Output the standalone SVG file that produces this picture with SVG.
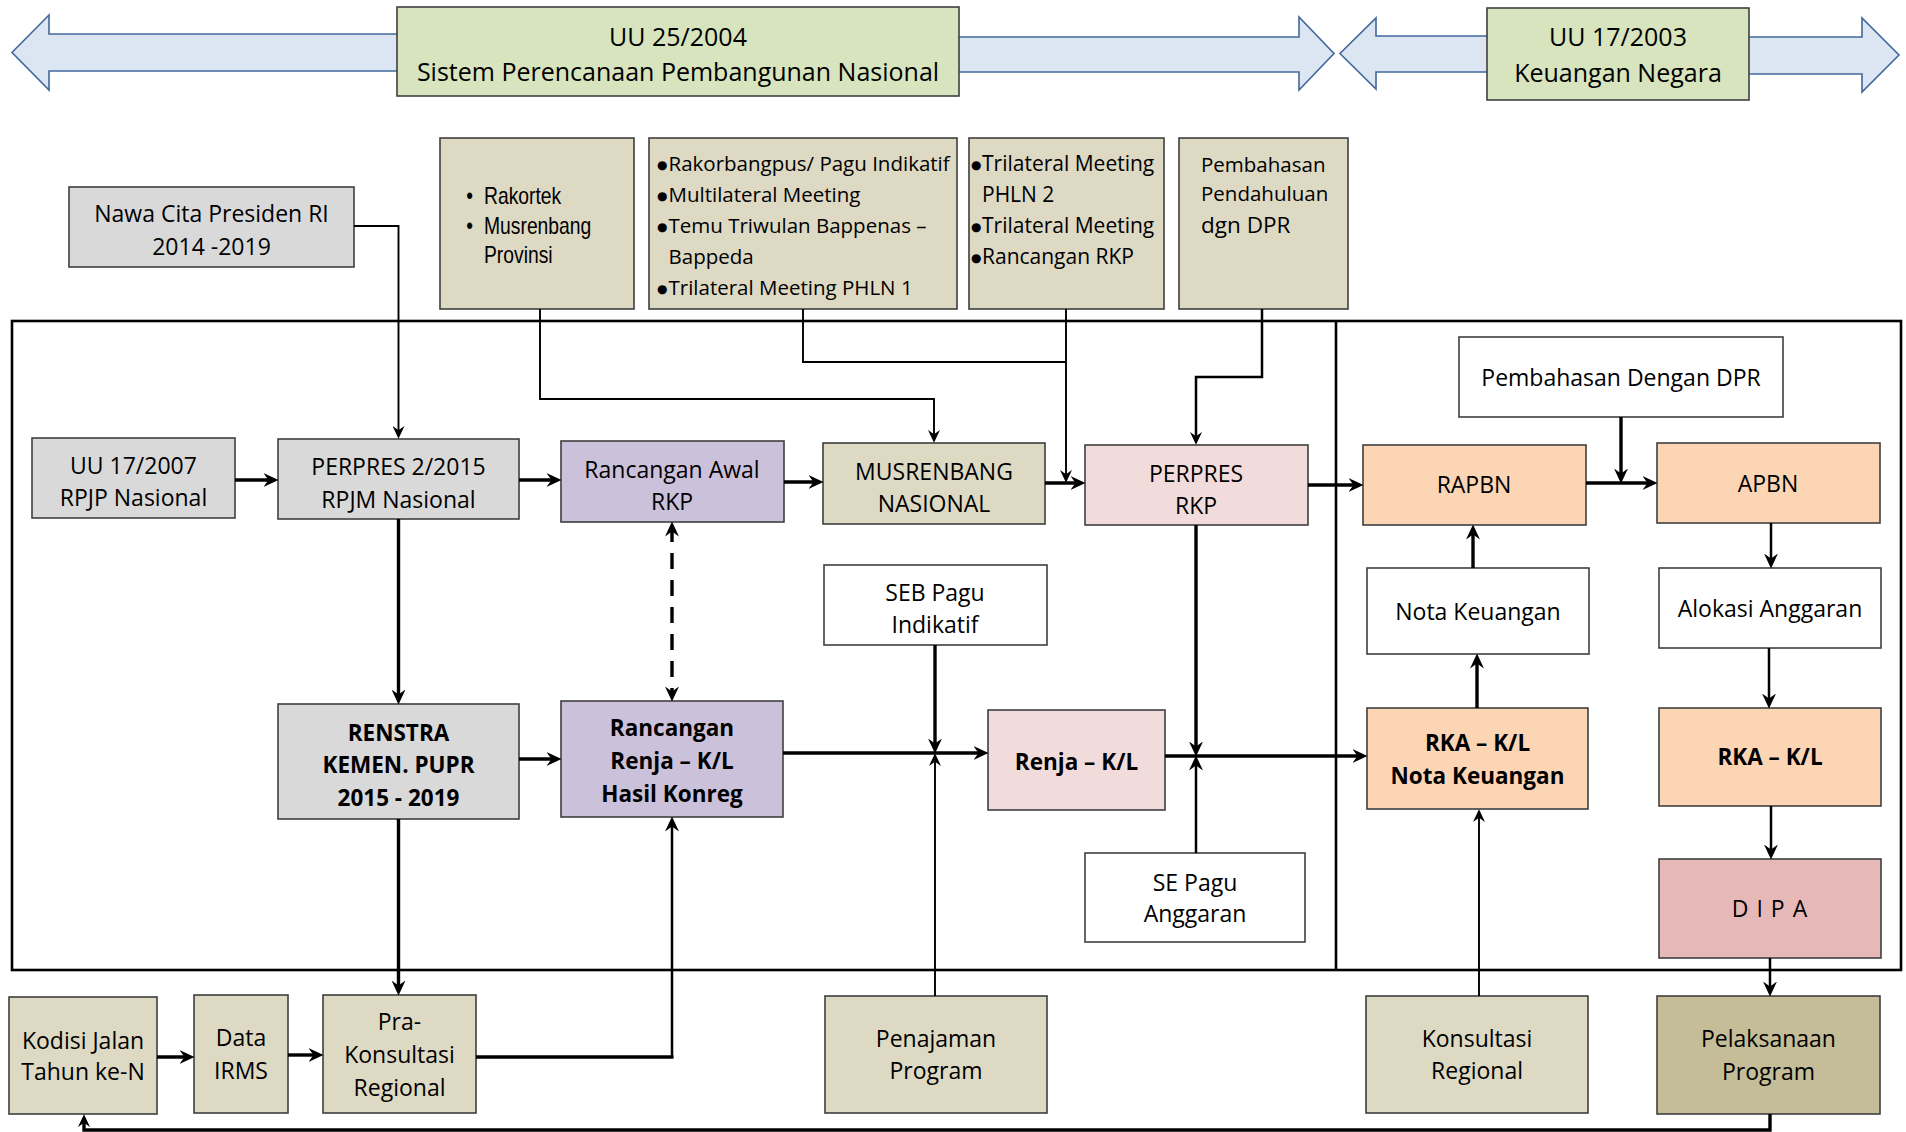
<svg xmlns="http://www.w3.org/2000/svg" width="1906" height="1132" viewBox="0 0 1906 1132">
  <style>
    .bx { stroke: #3f3f3f; stroke-width: 1.6; }
    .green { fill: #d7e4bd; }
    .gray { fill: #d9d9d9; }
    .tan { fill: #ddd9c3; }
    .purple { fill: #ccc1da; }
    .pink { fill: #f2dcdb; }
    .peach { fill: #fcd5b5; }
    .rose { fill: #e6b9b8; }
    .olive { fill: #c4bd97; }
    .white { fill: #ffffff; }
    .barrow { fill: #dce6f2; stroke: #41689c; stroke-width: 1.6; }
    .frame { fill: none; stroke: #000; stroke-width: 2.6; }
    .tx { font-family: "Open Sans", "Noto Sans", sans-serif; font-size: 23px; text-anchor: middle; fill: #000; }
    .bd { font-weight: 700; font-size: 22.5px; }
    .tp { font-size: 25px; }
    .lf { text-anchor: start; font-size: 20.5px; }
    .bul { font-family: "DejaVu Sans", sans-serif; font-size: 12px; text-anchor: start; fill: #000; }
    .nr { font-family: "Liberation Sans", Arial, sans-serif; font-size: 23px; text-anchor: start; fill: #000; }
    .c { fill: none; stroke: #000; }
    .thk { stroke-width: 3.4; }
    .med { stroke-width: 2.5; }
    .thn { stroke-width: 1.9; }
    .dash { stroke-dasharray: 16 11; }
  </style>
  <defs>
    <marker id="arr" viewBox="0 0 15 14" refX="10.5" refY="7" markerWidth="15" markerHeight="14" markerUnits="userSpaceOnUse" orient="auto-start-reverse">
      <path d="M0,0 L15,7 L0,14 L5,7 z" fill="#000"/>
    </marker>
    <marker id="arrs" viewBox="0 0 15 14" refX="10.5" refY="7" markerWidth="13" markerHeight="12" markerUnits="userSpaceOnUse" orient="auto-start-reverse">
      <path d="M0,0 L15,7 L0,14 L5,7 z" fill="#000"/>
    </marker>
  </defs>

  <rect width="1906" height="1132" fill="#ffffff"/>

  <!-- law banners with block arrows -->
  <g id="uu-25-2004">
    <polygon class="barrow" points="49,15 12,52.5 49,90 49,71 400,71 400,34 49,34"/>
    <polygon class="barrow" points="955,37 1299,37 1299,17 1334,53.5 1299,90 1299,72 955,72"/>
    <rect class="bx green" x="397" y="7" width="562" height="89"/>
    <text class="tx tp" x="678" y="46">UU 25/2004</text>
    <text class="tx tp" x="678" y="81">Sistem Perencanaan Pembangunan Nasional</text>
  </g>
  <g id="uu-17-2003">
    <polygon class="barrow" points="1490,36 1376,36 1376,18 1340,53.5 1376,89 1376,72 1490,72"/>
    <polygon class="barrow" points="1746,37 1862,37 1862,18 1899,55 1862,92 1862,74 1746,74"/>
    <rect class="bx green" x="1487" y="8" width="262" height="92"/>
    <text class="tx tp" x="1618" y="46">UU 17/2003</text>
    <text class="tx tp" x="1618" y="82">Keuangan Negara</text>
  </g>

  <!-- process frame and budget divider -->
  <g id="frame">
    <rect class="frame" x="12" y="321" width="1889" height="649"/>
    <line class="frame" x1="1336" y1="321" x2="1336" y2="970"/>
  </g>

  <!-- upper input boxes -->
  <g id="nawa-cita">
    <rect class="bx gray" x="69" y="187" width="285" height="80"/>
    <text class="tx" x="211.5" y="222">Nawa Cita Presiden RI</text>
    <text class="tx" x="211.5" y="255">2014 -2019</text>
  </g>
  <g id="rakortek">
    <rect class="bx tan" x="440" y="138" width="194" height="171"/>
    <g transform="translate(484,0) scale(0.84,1)">
      <text class="nr" x="-21" y="204">•</text>
      <text class="nr" x="0" y="204">Rakortek</text>
      <text class="nr" x="-21" y="234">•</text>
      <text class="nr" x="0" y="234">Musrenbang</text>
      <text class="nr" x="0" y="263">Provinsi</text>
    </g>
  </g>
  <g id="rakorbangpus">
    <rect class="bx tan" x="649" y="138" width="308" height="171"/>
    <text class="bul" x="657" y="168.5">●</text>
    <text class="tx lf" x="668.5" y="170.5">Rakorbangpus/ Pagu Indikatif</text>
    <text class="bul" x="657" y="199.5">●</text>
    <text class="tx lf" x="668.5" y="201.5">Multilateral Meeting</text>
    <text class="bul" x="657" y="230.5">●</text>
    <text class="tx lf" x="668.5" y="232.5">Temu Triwulan Bappenas –</text>
    <text class="tx lf" x="668.5" y="263.5">Bappeda</text>
    <text class="bul" x="657" y="292.5">●</text>
    <text class="tx lf" x="668.5" y="294.5">Trilateral Meeting PHLN 1</text>
  </g>
  <g id="trilateral">
    <rect class="bx tan" x="969" y="138" width="195" height="171"/>
    <text class="bul" x="971" y="168.5">●</text>
    <text class="tx lf" x="982" y="170.5" style="font-size:21px">Trilateral Meeting</text>
    <text class="tx lf" x="982" y="201.5" style="font-size:21px">PHLN 2</text>
    <text class="bul" x="971" y="230.5">●</text>
    <text class="tx lf" x="982" y="232.5" style="font-size:21px">Trilateral Meeting</text>
    <text class="bul" x="971" y="261.5">●</text>
    <text class="tx lf" x="982" y="263.5" style="font-size:21px">Rancangan RKP</text>
  </g>
  <g id="pembahasan-pendahuluan">
    <rect class="bx tan" x="1179" y="138" width="169" height="171"/>
    <text class="tx lf" x="1201" y="171.5">Pembahasan</text>
    <text class="tx lf" x="1201" y="200.5">Pendahuluan</text>
    <text class="tx lf" x="1201" y="233" style="font-size:22.5px">dgn DPR</text>
  </g>

  <!-- planning row -->
  <g id="uu-17-2007">
    <rect class="bx gray" x="32" y="438" width="203" height="80"/>
    <text class="tx" x="133.5" y="474">UU 17/2007</text>
    <text class="tx" x="133.5" y="506">RPJP Nasional</text>
  </g>
  <g id="perpres-2-2015">
    <rect class="bx gray" x="278" y="439" width="241" height="80"/>
    <text class="tx" x="398.5" y="475">PERPRES 2/2015</text>
    <text class="tx" x="398.5" y="507.5">RPJM Nasional</text>
  </g>
  <g id="rancangan-awal-rkp">
    <rect class="bx purple" x="561" y="441" width="223" height="81"/>
    <text class="tx" x="672" y="478">Rancangan Awal</text>
    <text class="tx" x="672" y="510">RKP</text>
  </g>
  <g id="musrenbang-nasional">
    <rect class="bx tan" x="823" y="443" width="222" height="81"/>
    <text class="tx" x="934" y="480">MUSRENBANG</text>
    <text class="tx" x="934" y="512">NASIONAL</text>
  </g>
  <g id="perpres-rkp">
    <rect class="bx pink" x="1085" y="445" width="223" height="80"/>
    <text class="tx" x="1196" y="481.5">PERPRES</text>
    <text class="tx" x="1196" y="514">RKP</text>
  </g>
  <g id="seb-pagu-indikatif">
    <rect class="bx white" x="824" y="565" width="223" height="80"/>
    <text class="tx" x="935" y="601">SEB Pagu</text>
    <text class="tx" x="935" y="633">Indikatif</text>
  </g>

  <!-- budget side -->
  <g id="pembahasan-dpr">
    <rect class="bx white" x="1459" y="337" width="324" height="80"/>
    <text class="tx" x="1621" y="386">Pembahasan Dengan DPR</text>
  </g>
  <g id="rapbn">
    <rect class="bx peach" x="1363" y="445" width="223" height="80"/>
    <text class="tx" x="1474" y="493">RAPBN</text>
  </g>
  <g id="apbn">
    <rect class="bx peach" x="1657" y="443" width="223" height="80"/>
    <text class="tx" x="1768" y="492">APBN</text>
  </g>
  <g id="nota-keuangan">
    <rect class="bx white" x="1367" y="568" width="222" height="86"/>
    <text class="tx" x="1478" y="619.5">Nota Keuangan</text>
  </g>
  <g id="alokasi-anggaran">
    <rect class="bx white" x="1659" y="568" width="222" height="80"/>
    <text class="tx" x="1770" y="617">Alokasi Anggaran</text>
  </g>

  <!-- work plan row -->
  <g id="renstra">
    <rect class="bx gray" x="278" y="704" width="241" height="115"/>
    <text class="tx bd" x="398.5" y="741">RENSTRA</text>
    <text class="tx bd" x="398.5" y="773">KEMEN. PUPR</text>
    <text class="tx bd" x="398.5" y="805.5">2015 - 2019</text>
  </g>
  <g id="rancangan-renja">
    <rect class="bx purple" x="561" y="701" width="222" height="116"/>
    <text class="tx bd" x="672" y="736">Rancangan</text>
    <text class="tx bd" x="672" y="769">Renja – K/L</text>
    <text class="tx bd" x="672" y="802">Hasil Konreg</text>
  </g>
  <g id="renja-kl">
    <rect class="bx pink" x="988" y="710" width="177" height="100"/>
    <text class="tx bd" x="1076.5" y="770">Renja – K/L</text>
  </g>
  <g id="se-pagu-anggaran">
    <rect class="bx white" x="1085" y="853" width="220" height="89"/>
    <text class="tx" x="1195" y="890.5">SE Pagu</text>
    <text class="tx" x="1195" y="922">Anggaran</text>
  </g>
  <g id="rka-nota">
    <rect class="bx peach" x="1367" y="708" width="221" height="101"/>
    <text class="tx bd" x="1477.5" y="751">RKA – K/L</text>
    <text class="tx bd" x="1477.5" y="783.5">Nota Keuangan</text>
  </g>
  <g id="rka-kl">
    <rect class="bx peach" x="1659" y="708" width="222" height="98"/>
    <text class="tx bd" x="1770" y="765">RKA – K/L</text>
  </g>
  <g id="dipa">
    <rect class="bx rose" x="1659" y="859" width="222" height="99"/>
    <text class="tx" x="1770" y="917" style="letter-spacing:1px">D I P A</text>
  </g>

  <!-- lower input boxes -->
  <g id="kodisi-jalan">
    <rect class="bx tan" x="9" y="997" width="148" height="117"/>
    <text class="tx" x="83" y="1048.5">Kodisi Jalan</text>
    <text class="tx" x="83" y="1080">Tahun ke-N</text>
  </g>
  <g id="data-irms">
    <rect class="bx tan" x="194" y="995" width="94" height="118"/>
    <text class="tx" x="241" y="1046">Data</text>
    <text class="tx" x="241" y="1079">IRMS</text>
  </g>
  <g id="pra-konsultasi">
    <rect class="bx tan" x="323" y="995" width="153" height="118"/>
    <text class="tx" x="399.5" y="1030">Pra-</text>
    <text class="tx" x="399.5" y="1063">Konsultasi</text>
    <text class="tx" x="399.5" y="1096">Regional</text>
  </g>
  <g id="penajaman-program">
    <rect class="bx tan" x="825" y="996" width="222" height="117"/>
    <text class="tx" x="936" y="1047">Penajaman</text>
    <text class="tx" x="936" y="1079">Program</text>
  </g>
  <g id="konsultasi-regional">
    <rect class="bx tan" x="1366" y="996" width="222" height="117"/>
    <text class="tx" x="1477" y="1047">Konsultasi</text>
    <text class="tx" x="1477" y="1079">Regional</text>
  </g>
  <g id="pelaksanaan-program">
    <rect class="bx olive" x="1657" y="996" width="223" height="118"/>
    <text class="tx" x="1768.5" y="1047">Pelaksanaan</text>
    <text class="tx" x="1768.5" y="1080">Program</text>
  </g>

  <!-- connectors -->
  <g id="connectors">
    <path class="c thn" d="M354,226 H398.5 V435" marker-end="url(#arrs)"/>
    <path class="c thn" d="M540,309 V399 H934 V439" marker-end="url(#arrs)"/>
    <path class="c thn" d="M803,309 V362 H1066"/>
    <path class="c thn" d="M1066,309 V479" marker-end="url(#arrs)"/>
    <path class="c med" d="M1262,309 V377 H1196 V441" marker-end="url(#arrs)"/>
    <path class="c thk" d="M235,480 H274" marker-end="url(#arr)"/>
    <path class="c thk" d="M519,480 H557" marker-end="url(#arr)"/>
    <path class="c thk" d="M784,482 H819" marker-end="url(#arr)"/>
    <path class="c thk" d="M1045,483 H1081" marker-end="url(#arr)"/>
    <path class="c thk" d="M1308,485 H1359" marker-end="url(#arr)"/>
    <path class="c thk" d="M1586,483 H1653" marker-end="url(#arr)"/>
    <path class="c thk" d="M1621,417 V479" marker-end="url(#arr)"/>
    <path class="c med" d="M1771,523 V564" marker-end="url(#arr)"/>
    <path class="c thk" d="M1473,568 V529" marker-end="url(#arr)"/>
    <path class="c thk" d="M1477,708 V658" marker-end="url(#arr)"/>
    <path class="c med" d="M1769,648 V704" marker-end="url(#arr)"/>
    <path class="c med" d="M1771,806 V855" marker-end="url(#arr)"/>
    <path class="c med" d="M1770,958 V992" marker-end="url(#arr)"/>
    <path class="c thk" d="M1770,1114 V1130 H84 V1118" marker-end="url(#arrs)"/>
    <path class="c thk" d="M398.5,519 V700" marker-end="url(#arr)"/>
    <path class="c thk" d="M398.5,819 V991" marker-end="url(#arr)"/>
    <path class="c thk" d="M519,759 H557" marker-end="url(#arr)"/>
    <path class="c thk" d="M783,753 H984" marker-end="url(#arr)"/>
    <path class="c thk" d="M476,1057 H673.5"/>
    <path class="c med" d="M672,1058 V821" marker-end="url(#arr)"/>
    <path class="c thk" d="M935,645 V749" marker-end="url(#arr)"/>
    <path class="c thn" d="M935,996 V757" marker-end="url(#arrs)"/>
    <path class="c thk" d="M1165,756 H1363" marker-end="url(#arr)"/>
    <path class="c thk" d="M1196,525 V752" marker-end="url(#arr)"/>
    <path class="c med" d="M1196,853 V760" marker-end="url(#arr)"/>
    <path class="c thn" d="M1479,996 V813" marker-end="url(#arrs)"/>
    <path class="c thk" d="M157,1057 H190" marker-end="url(#arr)"/>
    <path class="c thk" d="M288,1055 H319" marker-end="url(#arr)"/>
    <path class="c thk dash" d="M672,526 V697" marker-start="url(#arr)" marker-end="url(#arr)"/>
  </g>
</svg>
